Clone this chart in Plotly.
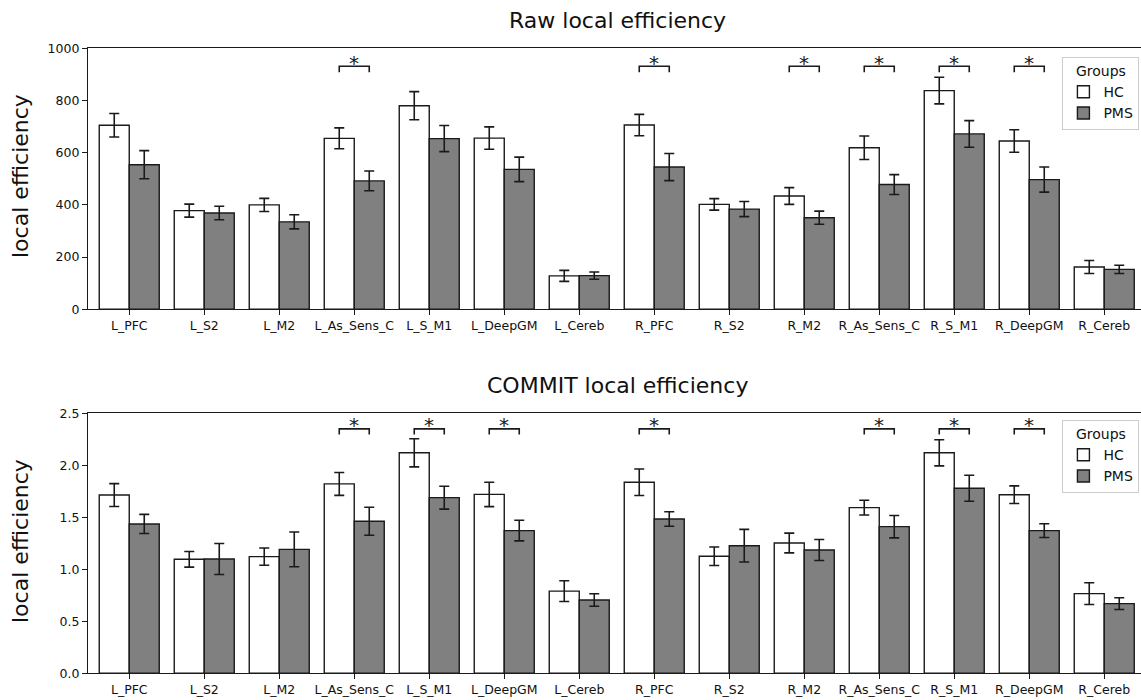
import plotly.graph_objects as go

regions = ["L_PFC", "L_S2", "L_M2", "L_As_Sens_C", "L_S_M1", "L_DeepGM", "L_Cereb",
           "R_PFC", "R_S2", "R_M2", "R_As_Sens_C", "R_S_M1", "R_DeepGM", "R_Cereb"]

raw_hc = [705, 378, 400, 655, 780, 656, 128, 706, 402, 434, 619, 838, 645, 162]
raw_hc_err = [45, 25, 25, 40, 54, 43, 21, 41, 22, 32, 45, 51, 43, 25]
raw_pms = [554, 369, 335, 492, 654, 536, 129, 545, 384, 351, 478, 672, 497, 153]
raw_pms_err = [54, 26, 27, 38, 50, 47, 14, 52, 29, 25, 38, 51, 48, 16]

com_hc = [1.714, 1.096, 1.122, 1.821, 2.120, 1.720, 0.790, 1.837, 1.125, 1.253, 1.593, 2.120, 1.717, 0.766]
com_hc_err = [0.11, 0.075, 0.083, 0.11, 0.135, 0.117, 0.10, 0.127, 0.089, 0.095, 0.071, 0.126, 0.085, 0.104]
com_pms = [1.436, 1.099, 1.192, 1.462, 1.689, 1.372, 0.705, 1.484, 1.227, 1.186, 1.410, 1.780, 1.372, 0.670]
com_pms_err = [0.092, 0.149, 0.167, 0.135, 0.11, 0.099, 0.06, 0.07, 0.157, 0.101, 0.108, 0.125, 0.066, 0.056]

sig_raw = ["L_As_Sens_C", "R_PFC", "R_M2", "R_As_Sens_C", "R_S_M1", "R_DeepGM"]
sig_commit = ["L_As_Sens_C", "L_S_M1", "L_DeepGM", "R_PFC", "R_As_Sens_C", "R_S_M1", "R_DeepGM"]

groups = ["HC", "PMS"]
fills = {"HC": "#ffffff", "PMS": "#808080"}
EDGE = "#1a1a1a"
FONT = "DejaVu Sans"

W, H = 1141, 700
L = 88

fig = go.Figure()


def add_panel(hc, hc_err, pms, pms_err, xa, ya, legend):
    for g, vals, errs in (("HC", hc, hc_err), ("PMS", pms, pms_err)):
        fig.add_trace(go.Bar(
            x=list(range(len(regions))), y=vals, name=g, xaxis=xa, yaxis=ya,
            offsetgroup=g, legend=legend,
            marker=dict(color=fills[g], line=dict(color=EDGE, width=1.4)),
            error_y=dict(type="data", array=errs, visible=True, color=EDGE,
                         thickness=1.6, width=5),
        ))


add_panel(raw_hc, raw_hc_err, raw_pms, raw_pms_err, "x", "y", "legend")
add_panel(com_hc, com_hc_err, com_pms, com_pms_err, "x2", "y2", "legend2")


def py(p):
    return 1 - p / H


top_dom = [py(309.3), py(48.3)]
bot_dom = [py(673.3), py(413.3)]

xcommon = dict(
    range=[-0.55, 13.49], tickmode="array", tickvals=list(range(len(regions))),
    ticktext=regions, showline=True, linecolor=EDGE, linewidth=1.3, mirror=True,
    ticks="outside", ticklen=5, tickwidth=1.2, tickcolor=EDGE, showgrid=False,
    zeroline=False, tickfont=dict(family=FONT, size=12.5, color="#111"),
    domain=[0, 1], automargin=False,
)
ycommon = dict(
    showline=True, linecolor=EDGE, linewidth=1.3, mirror=False, ticks="outside",
    ticklen=5, tickwidth=1.2, tickcolor=EDGE, showgrid=False, zeroline=False,
    tickfont=dict(family=FONT, size=12.5, color="#111"), automargin=False,
)

shapes = []
annotations = []


def add_sig(sig, yref, xref, top, low, star_y):
    for name in sig:
        i = regions.index(name)
        x0, x1 = i - 0.2, i + 0.2
        shapes.append(dict(
            type="path", xref=xref, yref=yref,
            path=f"M {x0},{low} L {x0},{top} L {x1},{top} L {x1},{low}",
            line=dict(color=EDGE, width=1.6),
        ))
        annotations.append(dict(
            x=i, y=star_y, xref=xref, yref=yref, text="*", showarrow=False,
            font=dict(family=FONT, size=20, color=EDGE), xanchor="center",
            yanchor="middle",
        ))


add_sig(sig_raw, "y", "x", 931, 908, 945)
add_sig(sig_commit, "y2", "x2", 2.35, 2.295, 2.39)

title_font = dict(family=FONT, size=22, color="#111")
annotations.append(dict(text="Raw local efficiency", x=(617 - L) / (W - L), y=py(20),
                        xref="paper", yref="paper", showarrow=False, font=title_font,
                        xanchor="center", yanchor="middle"))
annotations.append(dict(text="COMMIT local efficiency", x=(617 - L) / (W - L), y=py(385),
                        xref="paper", yref="paper", showarrow=False, font=title_font,
                        xanchor="center", yanchor="middle"))
for yc in (176, 541):
    annotations.append(dict(text="local efficiency", x=(20 - L) / (W - L), y=py(yc),
                            xref="paper", yref="paper", showarrow=False, textangle=-90,
                            font=title_font, xanchor="center", yanchor="middle"))

legend_common = dict(
    title=dict(text="Groups", side="top center", font=dict(family=FONT, size=14, color="#111")),
    font=dict(family=FONT, size=14, color="#111"),
    bgcolor="rgba(255,255,255,0.8)", bordercolor="#cccccc", borderwidth=1,
    xanchor="right", yanchor="top", x=0.9985, itemclick=False, itemwidth=30,
    tracegroupgap=0,
)

fig.update_layout(
    width=W, height=H, margin=dict(l=L, r=0, t=0, b=0, autoexpand=False),
    paper_bgcolor="white", plot_bgcolor="white",
    barmode="group", bargap=0.2, bargroupgap=0,
    xaxis=dict(**xcommon, anchor="y"),
    yaxis=dict(**ycommon, range=[0, 1000], tickvals=[0, 200, 400, 600, 800, 1000],
               domain=top_dom, anchor="x"),
    xaxis2=dict(**xcommon, anchor="y2"),
    yaxis2=dict(**ycommon, range=[0, 2.5], tickvals=[0, 0.5, 1.0, 1.5, 2.0, 2.5],
                ticktext=["0.0", "0.5", "1.0", "1.5", "2.0", "2.5"],
                domain=bot_dom, anchor="x2"),
    legend=dict(**legend_common, y=py(57)),
    legend2=dict(**legend_common, y=py(420)),
    shapes=shapes, annotations=annotations,
    showlegend=True,
)

fig.write_html(
    "out.html",
    config={"displayModeBar": False},
    post_script="document.body.style.margin='0';document.body.style.overflow='hidden';",
)
